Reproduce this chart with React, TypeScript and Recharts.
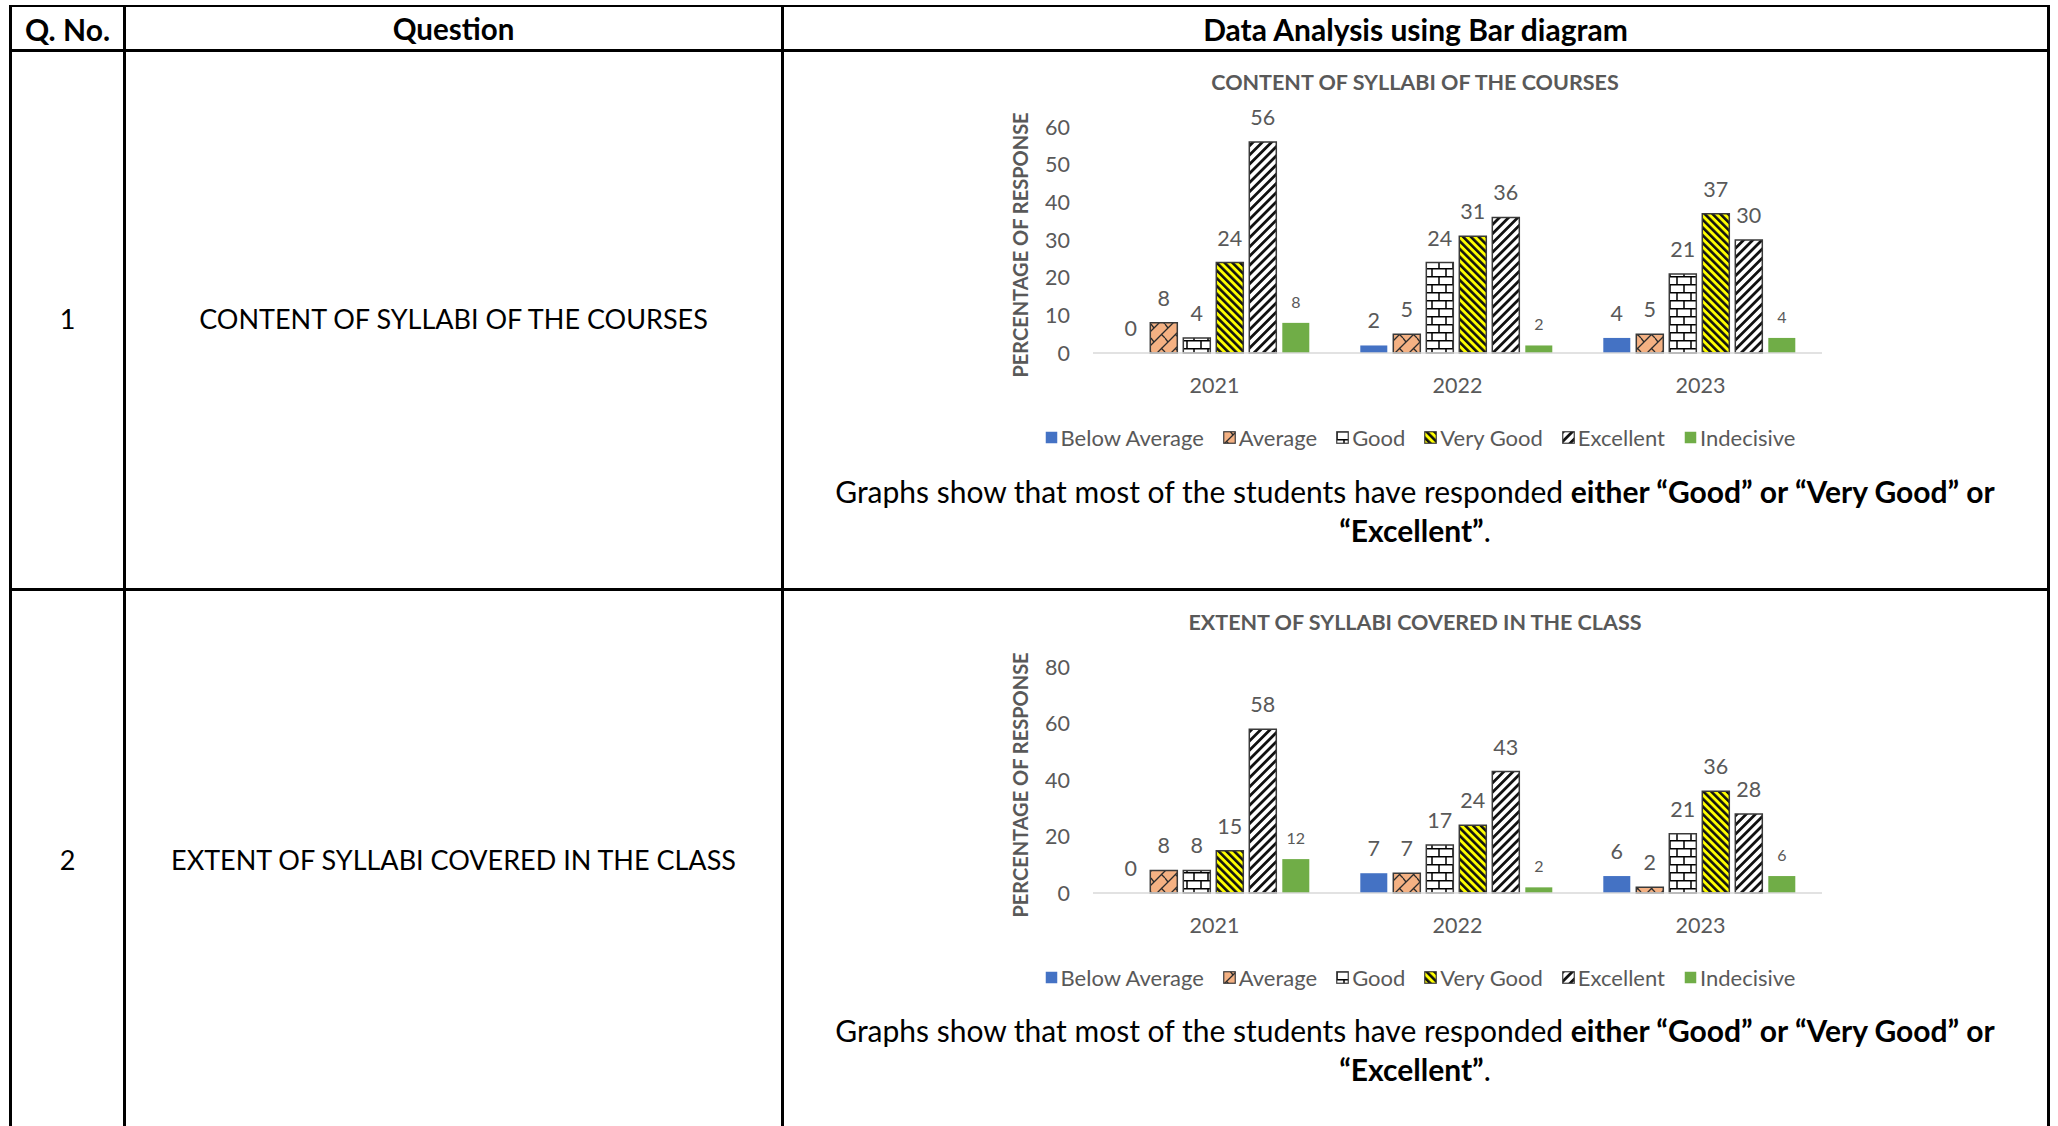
import { BarChart, Bar, XAxis, YAxis, LabelList } from "recharts";

// ── Data ──────────────────────────────────────────────────────────────────────

const YEARS = ["2021", "2022", "2023"];
const SERIES = ["Below Average", "Average", "Good", "Very Good", "Excellent", "Indecisive"];

// Q1: content of syllabi of the courses
const contentBelowAverage = [0, 2, 4];
const contentAverage = [8, 5, 5];
const contentGood = [4, 24, 21];
const contentVeryGood = [24, 31, 37];
const contentExcellent = [56, 36, 30];
const contentIndecisive = [8, 2, 4];
const contentTicks = [0, 10, 20, 30, 40, 50, 60];

// Q2: extent of syllabi covered in the class
const extentBelowAverage = [0, 7, 6];
const extentAverage = [8, 7, 2];
const extentGood = [8, 17, 21];
const extentVeryGood = [15, 24, 36];
const extentExcellent = [58, 43, 28];
const extentIndecisive = [12, 2, 6];
const extentTicks = [0, 20, 40, 60, 80];

// ── Styles ────────────────────────────────────────────────────────────────────

const FONT = "Lato, 'Open Sans', sans-serif";
const GREY = "#595959";
const EDGE = "#3a3a3a";

const FILLS = [
  "#4472C4",               // below average
  "url(#pat-average)",     // average
  "url(#pat-good)",        // good
  "url(#pat-verygood)",    // very good
  "url(#pat-excellent)",   // excellent
  "#70AD47",               // indecisive
];
const OUTLINED = [false, true, true, true, true, false];

function buildRows(cols: number[][]) {
  return YEARS.map((year, i) => {
    const row: Record<string, string | number> = { year };
    SERIES.forEach((s, k) => (row[s] = cols[k][i]));
    return row;
  });
}

const contentRows = buildRows([
  contentBelowAverage, contentAverage, contentGood,
  contentVeryGood, contentExcellent, contentIndecisive,
]);
const extentRows = buildRows([
  extentBelowAverage, extentAverage, extentGood,
  extentVeryGood, extentExcellent, extentIndecisive,
]);

// ── Pattern fills (shared by both charts and legends) ─────────────────────────

function Patterns() {
  return (
    <svg width={0} height={0} style={{ position: "absolute" }}>
      <defs>
        <pattern id="pat-average" width={14} height={14} patternUnits="userSpaceOnUse">
          <rect width={14} height={14} fill="#F4B183" />
          <path d="M0 14 L14 0 M-3 3 L3 -3 M11 17 L17 11 M3 10 L7 14 M7 0 L10 4" stroke="#2b2b2b" strokeWidth={1.3} fill="none" />
        </pattern>
        <pattern id="pat-good" width={14} height={16} patternUnits="userSpaceOnUse">
          <rect width={14} height={16} fill="#fff" />
          <path d="M0 0.75 H14 M0 8.75 H14 M1 0 V8.75 M8 8.75 V16" stroke="#000" strokeWidth={1.5} fill="none" />
        </pattern>
        <pattern id="pat-verygood" width={5.5} height={5.5} patternUnits="userSpaceOnUse" patternTransform="rotate(-45)">
          <rect width={5.5} height={5.5} fill="#FFFF00" />
          <rect width={2.6} height={5.5} fill="#111" />
        </pattern>
        <pattern id="pat-excellent" width={6.5} height={6.5} patternUnits="userSpaceOnUse" patternTransform="rotate(45)">
          <rect width={6.5} height={6.5} fill="#fff" />
          <rect width={2.8} height={6.5} fill="#111" />
        </pattern>
      </defs>
    </svg>
  );
}

// ── Chart ─────────────────────────────────────────────────────────────────────

interface SyllabusChartProps {
  title: string;
  rows: Record<string, string | number>[];
  ticks: number[];
  top: number;
}

function SyllabusChart({ title, rows, ticks, top }: SyllabusChartProps) {
  return (
    <>
      <div
        style={{
          position: "absolute", left: 782, width: 1266, top: top - 31,
          textAlign: "center", fontFamily: FONT, fontWeight: 700,
          fontSize: 21.5, color: GREY, lineHeight: "26px",
        }}
      >
        {title}
      </div>

      <div
        style={{
          position: "absolute", left: 1020, top: top + 145,
          transform: "translate(-50%, -50%) rotate(-90deg)",
          whiteSpace: "nowrap", fontFamily: FONT, fontWeight: 700,
          fontSize: 20, color: GREY,
        }}
      >
        PERCENTAGE OF RESPONSE
      </div>

      <div style={{ position: "absolute", left: 990, top }}>
        <BarChart
          width={860}
          height={300}
          data={rows}
          margin={{ top: 27, right: 28, bottom: 0, left: 0 }}
          barCategoryGap="10%"
          barGap={6}
        >
          <XAxis
            dataKey="year"
            axisLine={{ stroke: "#D9D9D9", strokeWidth: 1.5 }}
            tickLine={false}
            tickMargin={19}
            height={47}
            tick={{ fill: GREY, fontSize: 21.5, fontFamily: FONT }}
          />
          <YAxis
            width={103}
            domain={[ticks[0], ticks[ticks.length - 1]]}
            ticks={ticks}
            axisLine={false}
            tickLine={false}
            tickMargin={17}
            tick={{ fill: GREY, fontSize: 21.5, fontFamily: FONT }}
          />
          {SERIES.map((s, k) => (
            <Bar
              key={s}
              dataKey={s}
              fill={FILLS[k]}
              stroke={OUTLINED[k] ? EDGE : "none"}
              strokeWidth={OUTLINED[k] ? 1.5 : 0}
              minPointSize={0.01}
              isAnimationActive={false}
            >
              <LabelList
                dataKey={s}
                position="top"
                offset={k === 5 ? 15 : 17}
                fill={GREY}
                fontSize={k === 5 ? 16 : 21.5}
                fontFamily={FONT}
              />
            </Bar>
          ))}
        </BarChart>
      </div>

      {/* Legend */}
      <div
        style={{
          position: "absolute", left: 990, width: 860, top: top + 325,
          height: 24, display: "flex", justifyContent: "center", alignItems: "center",
          gap: 19, fontFamily: FONT, fontSize: 22, color: GREY,
        }}
      >
        {SERIES.map((s, k) => (
          <div key={s} style={{ display: "flex", alignItems: "center", gap: 3 }}>
            <svg width={13} height={13}>
              <rect
                x={0.75} y={0.75} width={11.5} height={11.5}
                fill={FILLS[k]}
                stroke={OUTLINED[k] ? EDGE : "none"}
                strokeWidth={OUTLINED[k] ? 1.2 : 0}
              />
            </svg>
            <span>{s}</span>
          </div>
        ))}
      </div>
    </>
  );
}

// ── Page (table) ──────────────────────────────────────────────────────────────

const LINE = 2.5;

function HLine({ y }: { y: number }) {
  return <div style={{ position: "absolute", left: 9.3, width: 2040.4, top: y, height: LINE, background: "#000" }} />;
}
function VLine({ x, y }: { x: number; y: number }) {
  return <div style={{ position: "absolute", left: x, width: LINE, top: y, bottom: 0, background: "#000" }} />;
}

function Cell({ x, y, w, text, bold = false, size = 27 }: {
  x: number; y: number; w: number; text: string; bold?: boolean; size?: number;
}) {
  return (
    <div
      style={{
        position: "absolute", left: x, width: w, top: y - 20, height: 40,
        lineHeight: "40px", textAlign: "center", fontFamily: FONT,
        fontWeight: bold ? 700 : 400, fontSize: size, color: "#000", whiteSpace: "nowrap",
      }}
    >
      {text}
    </div>
  );
}

function Summary({ top }: { top: number }) {
  return (
    <div
      style={{
        position: "absolute", left: 782, width: 1266, top,
        textAlign: "center", fontFamily: FONT, fontSize: 30, lineHeight: "39px", color: "#000",
        whiteSpace: "nowrap",
      }}
    >
      Graphs show that most of the students have responded{" "}
      <b>either “Good” or “Very Good” or</b>
      <br />
      <b>“Excellent”</b>.
    </div>
  );
}

export default function App() {
  return (
    <div style={{ position: "absolute", left: 0, top: 0, width: 2058, height: 1126, overflow: "hidden", background: "#fff" }}>
      <Patterns />

      <HLine y={4.7} />
      <HLine y={49.2} />
      <HLine y={588.3} />
      <VLine x={9.3} y={4.7} />
      <VLine x={123.3} y={4.7} />
      <VLine x={781} y={4.7} />
      <VLine x={2047} y={4.7} />

      <Cell x={11} y={28.5} w={113} text="Q. No." bold size={30} />
      <Cell x={125} y={28.5} w={657} text="Question" bold size={29.5} />
      <Cell x={783} y={28.5} w={1265} text="Data Analysis using Bar diagram" bold size={30} />

      <Cell x={11} y={319} w={113} text="1" />
      <Cell x={125} y={319} w={657} text="CONTENT OF SYLLABI OF THE COURSES" />
      <Cell x={11} y={860} w={113} text="2" />
      <Cell x={125} y={860} w={657} text="EXTENT OF SYLLABI COVERED IN THE CLASS" />

      <SyllabusChart title="CONTENT OF SYLLABI OF THE COURSES" rows={contentRows} ticks={contentTicks} top={100} />
      <Summary top={472} />

      <SyllabusChart title="EXTENT OF SYLLABI COVERED IN THE CLASS" rows={extentRows} ticks={extentTicks} top={640} />
      <Summary top={1011} />
    </div>
  );
}
